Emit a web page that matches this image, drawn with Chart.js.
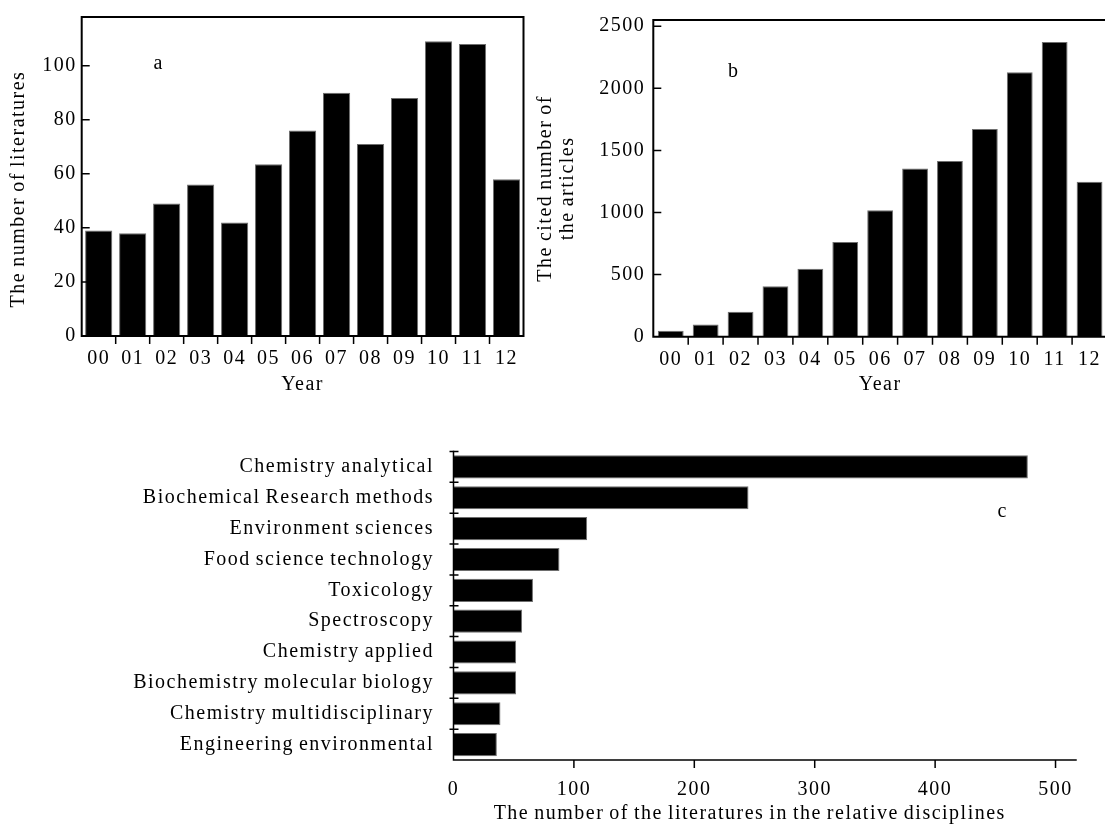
<!DOCTYPE html>
<html>
<head>
<meta charset="utf-8">
<script src="https://cdn.jsdelivr.net/npm/chart.js@4/dist/chart.umd.min.js"></script>
<style>
html, body { margin: 0; padding: 0; background: #fff; overflow: hidden; width: 1105px; height: 828px; }
canvas { position: absolute; }
.tag { position: absolute; font-family: "Liberation Serif", serif; font-size: 20px; color: #000; transform: translate(-50%, -50%); line-height: 20px; }
</style>
</head>
<body>
<canvas id="chartA" width="540" height="400" style="left:0;top:0"></canvas>
<canvas id="chartB" width="600" height="400" style="left:530px;top:0"></canvas>
<canvas id="chartC" width="1105" height="408" style="left:0;top:420px"></canvas>
<div class="tag" style="left:158px;top:62px">a</div>
<div class="tag" style="left:733px;top:70px">b</div>
<div class="tag" style="left:1002px;top:510px">c</div>

<script>
// --- data ---
const years = ['00', '01', '02', '03', '04', '05', '06', '07', '08', '09', '10', '11', '12'];
const literatureCounts = [39, 38, 49, 56, 42, 63.5, 76, 90, 71, 88, 109, 108, 58];
const citedCounts = [48, 99, 200, 406, 548, 762, 1018, 1355, 1414, 1673, 2130, 2373, 1248];
const disciplines = [
    'Chemistry analytical',
    'Biochemical Research methods',
    'Environment sciences',
    'Food science technology',
    'Toxicology',
    'Spectroscopy',
    'Chemistry applied',
    'Biochemistry molecular biology',
    'Chemistry multidisciplinary',
    'Engineering environmental'
];
const disciplineCounts = [477, 245, 111, 88, 66, 57, 52, 52, 39, 36];
const ticksA = [0, 20, 40, 60, 80, 100];
const ticksB = [0, 500, 1000, 1500, 2000, 2500];
const ticksC = [0, 100, 200, 300, 400, 500];

const FONT = { family: '"Liberation Serif", serif', size: 20 };

// the scanned figure has loosely spaced letters but tight word gaps
const looseText = {
    id: 'looseText',
    beforeLayout(chart) { chart.ctx.letterSpacing = '1.5px'; chart.ctx.wordSpacing = '-1.5px'; },
    beforeDraw(chart) { chart.ctx.letterSpacing = '1.5px'; chart.ctx.wordSpacing = '-1.5px'; }
};

// frame lines and small tick marks, placed with the chart's own scales
const axisMarks = {
    id: 'axisMarks',
    afterDatasetsDraw(chart, args, o) {
        if (!o || !o.sides) return;
        const { ctx, chartArea: a } = chart;
        ctx.save();
        ctx.strokeStyle = '#000';
        ctx.lineWidth = o.width || 2;
        ctx.lineCap = 'square';
        ctx.beginPath();
        if (o.sides.includes('top')) { ctx.moveTo(a.left, a.top); ctx.lineTo(a.right, a.top); }
        if (o.sides.includes('right')) { ctx.moveTo(a.right, a.top); ctx.lineTo(a.right, a.bottom); }
        if (o.sides.includes('bottom')) { ctx.moveTo(a.left, a.bottom); ctx.lineTo(a.right, a.bottom); }
        if (o.sides.includes('left')) { ctx.moveTo(a.left, a.top); ctx.lineTo(a.left, a.bottom); }
        ctx.stroke();

        ctx.lineWidth = 1.5;
        ctx.lineCap = 'butt';
        ctx.beginPath();
        (o.marks || []).forEach(m => {
            const s = chart.scales[m.axis];
            let pts = [];
            if (m.between) {
                const half = (s.getPixelForTick(1) - s.getPixelForTick(0)) / 2;
                s.ticks.forEach((t, i) => pts.push(s.getPixelForTick(i) - half));
            } else {
                s.ticks.forEach(t => pts.push(s.getPixelForValue(t.value)));
            }
            if (s.isHorizontal()) {
                pts = pts.filter(p => p > a.left + 1 && p < a.right - 1);
                pts.forEach(p => { ctx.moveTo(p, a.bottom + m.from); ctx.lineTo(p, a.bottom + m.to); });
            } else {
                pts = pts.filter(p => p < a.bottom - 1 && (m.keepTop || p > a.top + 1));
                pts.forEach(p => { ctx.moveTo(a.left + m.from, p); ctx.lineTo(a.left + m.to, p); });
            }
        });
        ctx.stroke();
        ctx.restore();
    }
};
Chart.register(looseText, axisMarks);

function barSet(values, pct) {
    return {
        data: values,
        backgroundColor: '#000',
        borderColor: '#6e6e6e',
        borderWidth: 1,
        barPercentage: pct,
        categoryPercentage: 1
    };
}

const plainNumber = v => String(v);

// --- a: number of literatures per year ---
new Chart(document.getElementById('chartA'), {
    type: 'bar',
    data: { labels: years, datasets: [barSet(literatureCounts, 0.8)] },
    options: {
        responsive: false,
        animation: false,
        layout: { padding: { top: 16.7, right: 16.5, left: 0, bottom: 0 } },
        plugins: {
            legend: { display: false },
            tooltip: { enabled: false },
            axisMarks: {
                sides: ['top', 'right', 'bottom', 'left'],
                width: 2,
                marks: [
                    { axis: 'x', between: true, from: 0, to: 8 },
                    { axis: 'y', from: 0, to: 8 }
                ]
            }
        },
        scales: {
            x: {
                grid: { display: false, drawTicks: false },
                border: { display: false },
                ticks: { color: '#000', font: FONT, padding: 11, maxRotation: 0, autoSkip: false },
                title: { display: true, text: 'Year', color: '#000', font: FONT, padding: { top: 0, bottom: 3 } },
                afterFit: s => { s.height = 64; }
            },
            y: {
                min: 0,
                max: 118,
                grid: { display: false, drawTicks: false },
                border: { display: false },
                afterBuildTicks: s => { s.ticks = ticksA.map(v => ({ value: v })); },
                ticks: { color: '#000', font: FONT, padding: 5, callback: plainNumber },
                title: { display: true, text: 'The number of literatures     ', color: '#000', font: FONT, padding: { top: 7, bottom: 0 } },
                afterFit: s => { s.width = 81.7; }
            }
        }
    }
});

// --- b: cited number of the articles per year ---
new Chart(document.getElementById('chartB'), {
    type: 'bar',
    data: { labels: years, datasets: [barSet(citedCounts, 0.74)] },
    options: {
        responsive: false,
        animation: false,
        layout: { padding: { top: 18.3, right: 23, left: 0, bottom: 0 } },
        plugins: {
            legend: { display: false },
            tooltip: { enabled: false },
            axisMarks: {
                sides: ['top', 'bottom', 'left'],
                width: 2,
                marks: [
                    { axis: 'x', between: true, from: 0, to: 8 },
                    { axis: 'y', from: 0, to: 8 }
                ]
            }
        },
        scales: {
            x: {
                grid: { display: false, drawTicks: false },
                border: { display: false },
                ticks: { color: '#000', font: FONT, padding: 11, maxRotation: 0, autoSkip: false },
                title: { display: true, text: 'Year', color: '#000', font: FONT, padding: { top: 0, bottom: 3 } },
                afterFit: s => { s.height = 63.3; }
            },
            y: {
                min: 0,
                max: 2550,
                grid: { display: false, drawTicks: false },
                border: { display: false },
                afterBuildTicks: s => { s.ticks = ticksB.map(v => ({ value: v })); },
                ticks: { color: '#000', font: FONT, padding: 8, callback: plainNumber },
                title: {
                    display: true,
                    text: ['The cited number of    ', 'the articles    '],
                    color: '#000',
                    font: { family: FONT.family, size: 20, lineHeight: 1.1 },
                    padding: { top: 5, bottom: 0 }
                },
                afterFit: s => { s.width = 123.3; }
            }
        }
    }
});

// --- c: literatures in the relative disciplines ---
new Chart(document.getElementById('chartC'), {
    type: 'bar',
    data: { labels: disciplines, datasets: [barSet(disciplineCounts, 0.75)] },
    options: {
        indexAxis: 'y',
        responsive: false,
        animation: false,
        layout: { padding: { top: 17.3, right: 29, left: 0, bottom: 0 } },
        plugins: {
            legend: { display: false },
            tooltip: { enabled: false },
            axisMarks: {
                sides: ['bottom', 'left'],
                width: 1.5,
                marks: [
                    { axis: 'x', from: 0, to: 8 },
                    { axis: 'y', between: true, keepTop: true, from: -4, to: 5 }
                ]
            }
        },
        scales: {
            x: {
                min: 0,
                max: 517,
                grid: { display: false, drawTicks: false },
                border: { display: false },
                afterBuildTicks: s => { s.ticks = ticksC.map(v => ({ value: v })); },
                ticks: { color: '#000', font: FONT, padding: 18, maxRotation: 0, callback: plainNumber },
                title: {
                    display: true,
                    text: 'The number of the literatures in the relative disciplines      ',
                    color: '#000',
                    font: FONT,
                    padding: { top: 0, bottom: 2 }
                },
                afterFit: s => { s.height = 68; }
            },
            y: {
                grid: { display: false, drawTicks: false },
                border: { display: false },
                ticks: { color: '#000', font: FONT, padding: 19.5, autoSkip: false },
                afterFit: s => { s.width = 453.5; }
            }
        }
    }
});
</script>
</body>
</html>
